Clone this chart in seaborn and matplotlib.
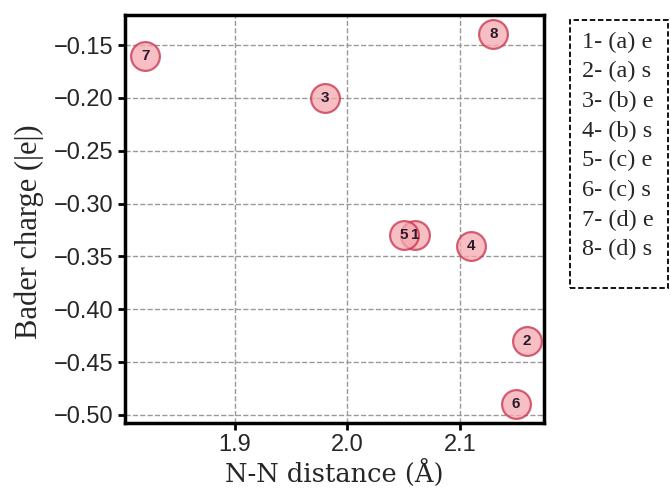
import matplotlib
matplotlib.use("Agg")
import matplotlib.pyplot as plt
import seaborn as sns
import pandas as pd
from matplotlib.patches import Rectangle

labels = ["1", "2", "3", "4", "5", "6", "7", "8"]
nn_distance = [2.06, 2.16, 1.98, 2.11, 2.05, 2.15, 1.82, 2.13]
bader_charge = [-0.33, -0.43, -0.20, -0.34, -0.33, -0.49, -0.16, -0.14]
legend_lines = ["1- (a) e", "2- (a) s", "3- (b) e", "4- (b) s",
                "5- (c) e", "6- (c) s", "7- (d) e", "8- (d) s"]
xticks = [1.9, 2.0, 2.1]
yticks = [-0.15, -0.20, -0.25, -0.30, -0.35, -0.40, -0.45, -0.50]

df = pd.DataFrame({"x": nn_distance, "y": bader_charge, "label": labels})

sns.set_style("white")
plt.rcParams["font.family"] = ["Liberation Sans", "DejaVu Sans"]

fig = plt.figure(figsize=(6.71, 4.95), dpi=100)
ax = fig.add_axes([125/671, 1 - 423/495, (544-125)/671, (423-15)/495])

sns.scatterplot(data=df, x="x", y="y", ax=ax, s=430, color="#f5a8b0",
                edgecolor="#c8304a", linewidth=1.6, alpha=0.75, zorder=3)
for xv, yv, lb in zip(nn_distance, bader_charge, labels):
    ax.text(xv, yv, lb, ha="center", va="center", fontsize=11,
            fontweight="bold", color="#2a1a2a", zorder=4)

ax.set_xlim(1.802, 2.175)
ax.set_ylim(-0.5076, -0.1216)
ax.set_xticks(xticks)
ax.set_xticklabels([f"{t:.1f}" for t in xticks])
ax.set_yticks(yticks)
ax.set_yticklabels([f"\u2212{abs(t):.2f}" for t in yticks])
ax.tick_params(axis="both", labelsize=17, direction="out", length=5,
               width=2, color="black", left=True, bottom=True, pad=3)
ax.grid(True, linestyle="--", color="#9a9a9a", linewidth=1.0, zorder=0)
ax.set_axisbelow(True)
for sp in ax.spines.values():
    sp.set_linewidth(2.5)
    sp.set_color("black")

ax.set_xlabel("N-N distance (Å)", fontsize=18.5, family="DejaVu Serif", labelpad=2)
ax.set_ylabel("Bader charge (|e|)", fontsize=22, family="Liberation Serif")
ax.yaxis.set_label_coords(-0.193, 0.47)

# legend box
box = Rectangle((570/671, 1 - 288/495), (668-570)/671, (288-20)/495,
                transform=fig.transFigure, fill=False, edgecolor="black",
                linestyle=(0, (3, 1.5)), linewidth=1.3)
fig.patches.append(box)
for i, line in enumerate(legend_lines):
    fig.text(582/671, 1 - (42 + i * 29.7)/495, line, ha="left", va="center",
             fontsize=17.5, family="Liberation Serif")

fig.savefig("out.png", dpi=100)
